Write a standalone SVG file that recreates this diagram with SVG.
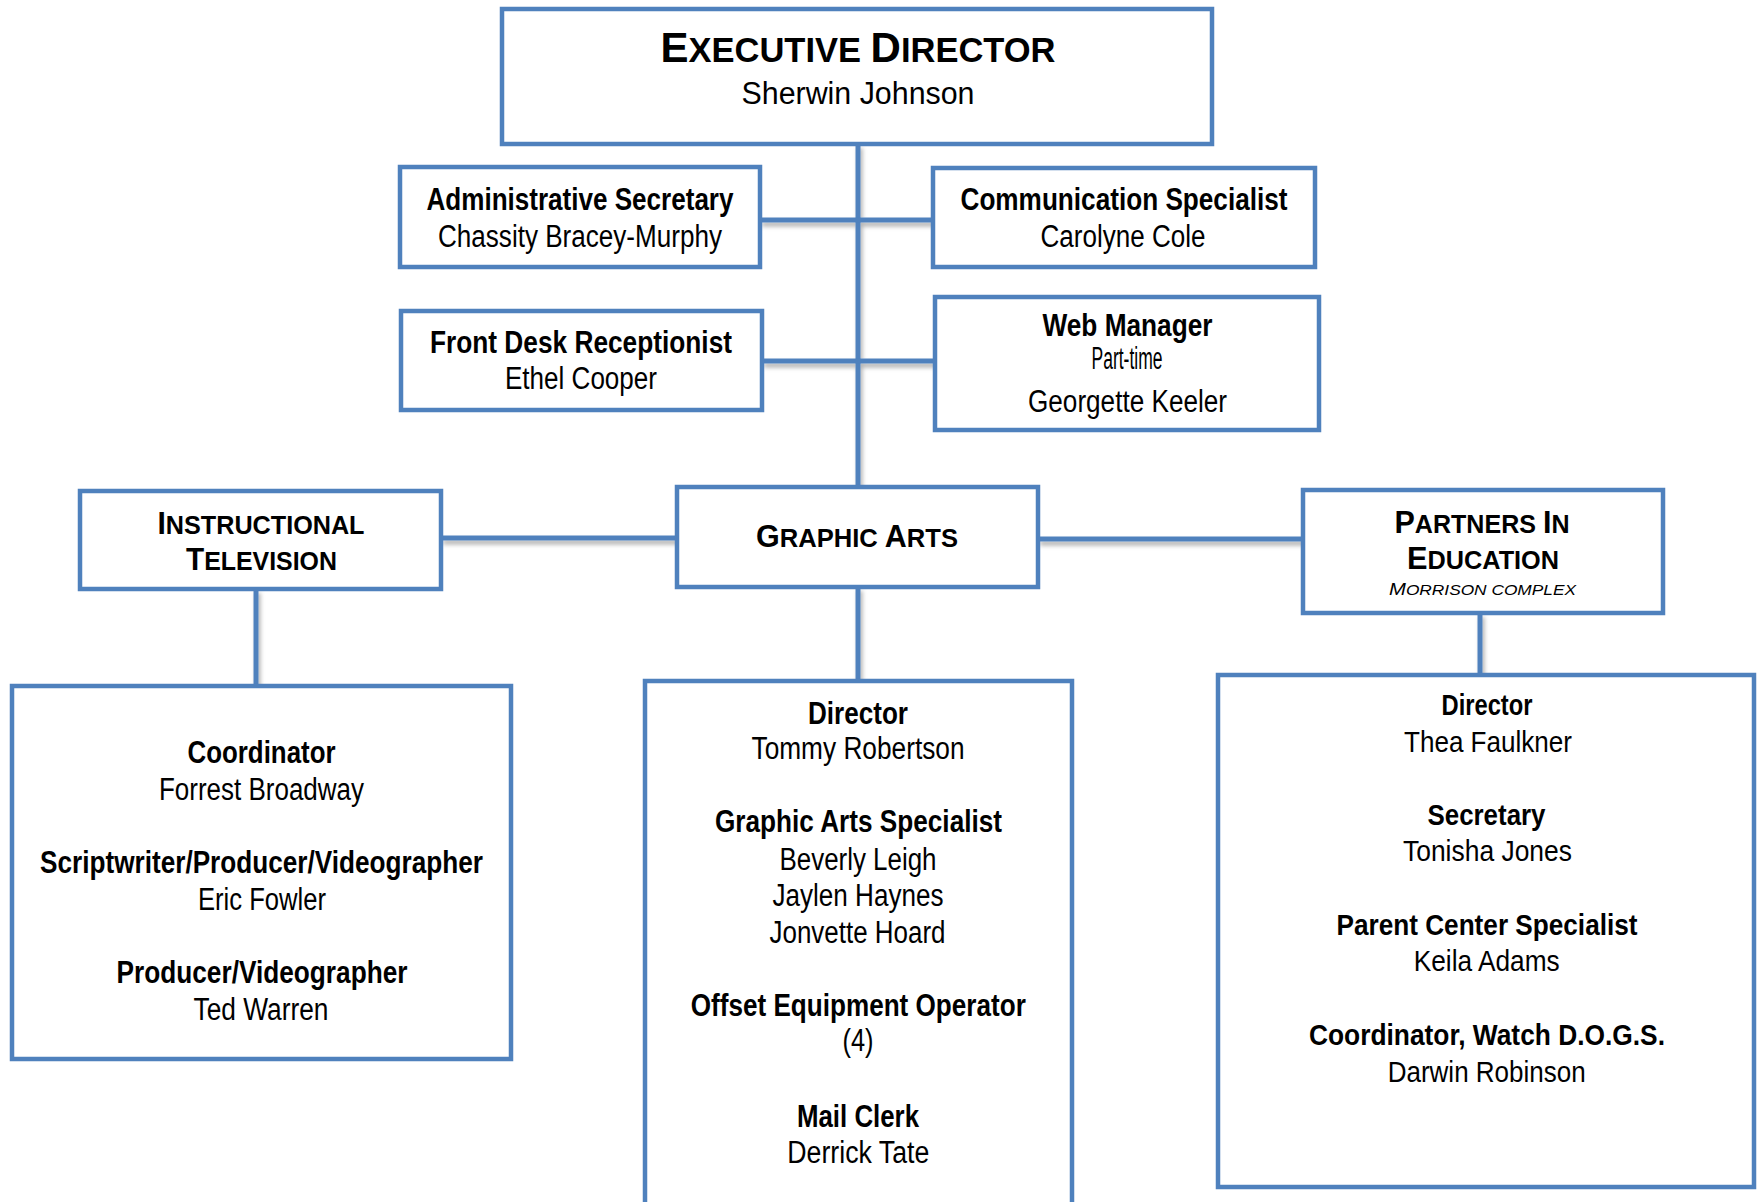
<svg xmlns="http://www.w3.org/2000/svg" width="1758" height="1202" viewBox="0 0 1758 1202">
<defs>
<filter id="sh" filterUnits="userSpaceOnUse" x="0" y="0" width="1758" height="1202">
<feDropShadow dx="2" dy="4" stdDeviation="2" flood-color="#000" flood-opacity="0.3"/>
</filter>
<style>
.box{fill:#fff;stroke:#4F81BD;stroke-width:4.5}
.conn{stroke:#4F81BD;stroke-width:5;fill:none}
.t{font-family:"Liberation Sans Narrow","Liberation Sans",Arial,sans-serif;font-size:31px;text-anchor:middle;fill:#000}
.s{font-size:29px}
.b{font-weight:bold}
.h{font-family:"Liberation Sans",Arial,sans-serif;font-weight:bold;text-anchor:middle;fill:#000}
</style>
</defs>
<rect width="1758" height="1202" fill="#fff"/>
<g id="connectors" filter="url(#sh)">
<line class="conn" x1="858" y1="144" x2="858" y2="487"/>
<line class="conn" x1="760" y1="220" x2="933" y2="220"/>
<line class="conn" x1="762" y1="361" x2="935" y2="361"/>
<line class="conn" x1="441" y1="538" x2="677" y2="538"/>
<line class="conn" x1="1038" y1="539" x2="1303" y2="539"/>
<line class="conn" x1="256" y1="589" x2="256" y2="686"/>
<line class="conn" x1="858" y1="587" x2="858" y2="681"/>
<line class="conn" x1="1480" y1="613" x2="1480" y2="675"/>
</g>
<g id="exec">
<rect class="box" x="502" y="9" width="710" height="135"/>
<text class="h" x="858" y="62" textLength="395" lengthAdjust="spacingAndGlyphs"><tspan font-size="42">E</tspan><tspan font-size="34.5">XECUTIVE </tspan><tspan font-size="42">D</tspan><tspan font-size="34.5">IRECTOR</tspan></text>
<text class="t" x="858" y="104" font-size="36" textLength="233" lengthAdjust="spacingAndGlyphs">Sherwin Johnson</text>
</g>
<g id="admin">
<rect class="box" x="400" y="167" width="360" height="100"/>
<text class="t b" x="580" y="210" textLength="307" lengthAdjust="spacingAndGlyphs">Administrative Secretary</text>
<text class="t" x="580" y="247" textLength="284" lengthAdjust="spacingAndGlyphs">Chassity Bracey-Murphy</text>
</g>
<g id="comm">
<rect class="box" x="933" y="168" width="382" height="99"/>
<text class="t b" x="1124" y="210" textLength="327" lengthAdjust="spacingAndGlyphs">Communication Specialist</text>
<text class="t" x="1123" y="247" textLength="165" lengthAdjust="spacingAndGlyphs">Carolyne Cole</text>
</g>
<g id="frontdesk">
<rect class="box" x="401" y="311" width="361" height="99"/>
<text class="t b" x="581" y="353" textLength="302" lengthAdjust="spacingAndGlyphs">Front Desk Receptionist</text>
<text class="t" x="581" y="389" textLength="152" lengthAdjust="spacingAndGlyphs">Ethel Cooper</text>
</g>
<g id="web">
<rect class="box" x="935" y="297" width="384" height="133"/>
<text class="t b" x="1127.5" y="336" textLength="170" lengthAdjust="spacingAndGlyphs">Web Manager</text>
<text class="t" x="1127" y="369" font-size="17" textLength="71" lengthAdjust="spacingAndGlyphs">Part-time</text>
<text class="t" x="1127.5" y="412" textLength="199" lengthAdjust="spacingAndGlyphs">Georgette Keeler</text>
</g>
<g id="itv">
<rect class="box" x="80" y="491" width="361" height="98"/>
<text class="h" x="261" y="534" textLength="207" lengthAdjust="spacingAndGlyphs"><tspan font-size="31">I</tspan><tspan font-size="26">NSTRUCTIONAL</tspan></text>
<text class="h" x="261.5" y="570" textLength="151" lengthAdjust="spacingAndGlyphs"><tspan font-size="31">T</tspan><tspan font-size="26">ELEVISION</tspan></text>
</g>
<g id="graphicarts">
<rect class="box" x="677" y="487" width="361" height="100"/>
<text class="h" x="857" y="547" textLength="202" lengthAdjust="spacingAndGlyphs"><tspan font-size="31">G</tspan><tspan font-size="26">RAPHIC </tspan><tspan font-size="31">A</tspan><tspan font-size="26">RTS</tspan></text>
</g>
<g id="pie">
<rect class="box" x="1303" y="490" width="360" height="123"/>
<text class="h" x="1482" y="533" textLength="175" lengthAdjust="spacingAndGlyphs"><tspan font-size="31">P</tspan><tspan font-size="25.5">ARTNERS </tspan><tspan font-size="31">I</tspan><tspan font-size="25.5">N</tspan></text>
<text class="h" x="1483" y="569" textLength="152" lengthAdjust="spacingAndGlyphs"><tspan font-size="31">E</tspan><tspan font-size="25.5">DUCATION</tspan></text>
<text class="h" x="1482.5" y="595" font-style="italic" textLength="187" lengthAdjust="spacingAndGlyphs" style="font-weight:normal"><tspan font-size="17">M</tspan><tspan font-size="14.5">ORRISON COMPLEX</tspan></text>
</g>
<g id="itv-staff">
<rect class="box" x="12" y="686" width="499" height="373"/>
<text class="t b" x="261.5" y="763" textLength="148" lengthAdjust="spacingAndGlyphs">Coordinator</text>
<text class="t" x="261.5" y="800" textLength="205" lengthAdjust="spacingAndGlyphs">Forrest Broadway</text>
<text class="t b" x="261.5" y="873" textLength="443" lengthAdjust="spacingAndGlyphs">Scriptwriter/Producer/Videographer</text>
<text class="t" x="262" y="910" textLength="128" lengthAdjust="spacingAndGlyphs">Eric Fowler</text>
<text class="t b" x="262" y="983" textLength="291" lengthAdjust="spacingAndGlyphs">Producer/Videographer</text>
<text class="t" x="261" y="1020" textLength="135" lengthAdjust="spacingAndGlyphs">Ted Warren</text>
</g>
<g id="ga-staff">
<rect class="box" x="645" y="681" width="427" height="540"/>
<text class="t b" x="858" y="723.5" textLength="100" lengthAdjust="spacingAndGlyphs">Director</text>
<text class="t" x="858" y="759" textLength="213" lengthAdjust="spacingAndGlyphs">Tommy Robertson</text>
<text class="t b" x="858.5" y="832" textLength="287" lengthAdjust="spacingAndGlyphs">Graphic Arts Specialist</text>
<text class="t" x="858" y="869.5" textLength="157" lengthAdjust="spacingAndGlyphs">Beverly Leigh</text>
<text class="t" x="858" y="906" textLength="171" lengthAdjust="spacingAndGlyphs">Jaylen Haynes</text>
<text class="t" x="857.5" y="942.5" textLength="176" lengthAdjust="spacingAndGlyphs">Jonvette Hoard</text>
<text class="t b" x="858.3" y="1016" textLength="335" lengthAdjust="spacingAndGlyphs">Offset Equipment Operator</text>
<text class="t" x="858" y="1051" textLength="31" lengthAdjust="spacingAndGlyphs">(4)</text>
<text class="t b" x="858" y="1126.5" textLength="122" lengthAdjust="spacingAndGlyphs">Mail Clerk</text>
<text class="t" x="858.3" y="1162.5" textLength="142" lengthAdjust="spacingAndGlyphs">Derrick Tate</text>
</g>
<g id="pie-staff">
<rect class="box" x="1218" y="675" width="536" height="512"/>
<text class="t s b" x="1487" y="715" textLength="91" lengthAdjust="spacingAndGlyphs">Director</text>
<text class="t s" x="1488" y="751.5" textLength="168" lengthAdjust="spacingAndGlyphs">Thea Faulkner</text>
<text class="t s b" x="1486.5" y="825" textLength="118" lengthAdjust="spacingAndGlyphs">Secretary</text>
<text class="t s" x="1487.5" y="861" textLength="169" lengthAdjust="spacingAndGlyphs">Tonisha Jones</text>
<text class="t s b" x="1487" y="934.5" textLength="301" lengthAdjust="spacingAndGlyphs">Parent Center Specialist</text>
<text class="t s" x="1486.7" y="971" textLength="146" lengthAdjust="spacingAndGlyphs">Keila Adams</text>
<text class="t s b" x="1487" y="1044.5" textLength="356" lengthAdjust="spacingAndGlyphs">Coordinator, Watch D.O.G.S.</text>
<text class="t s" x="1486.7" y="1081.5" textLength="198" lengthAdjust="spacingAndGlyphs">Darwin Robinson</text>
</g>
</svg>
